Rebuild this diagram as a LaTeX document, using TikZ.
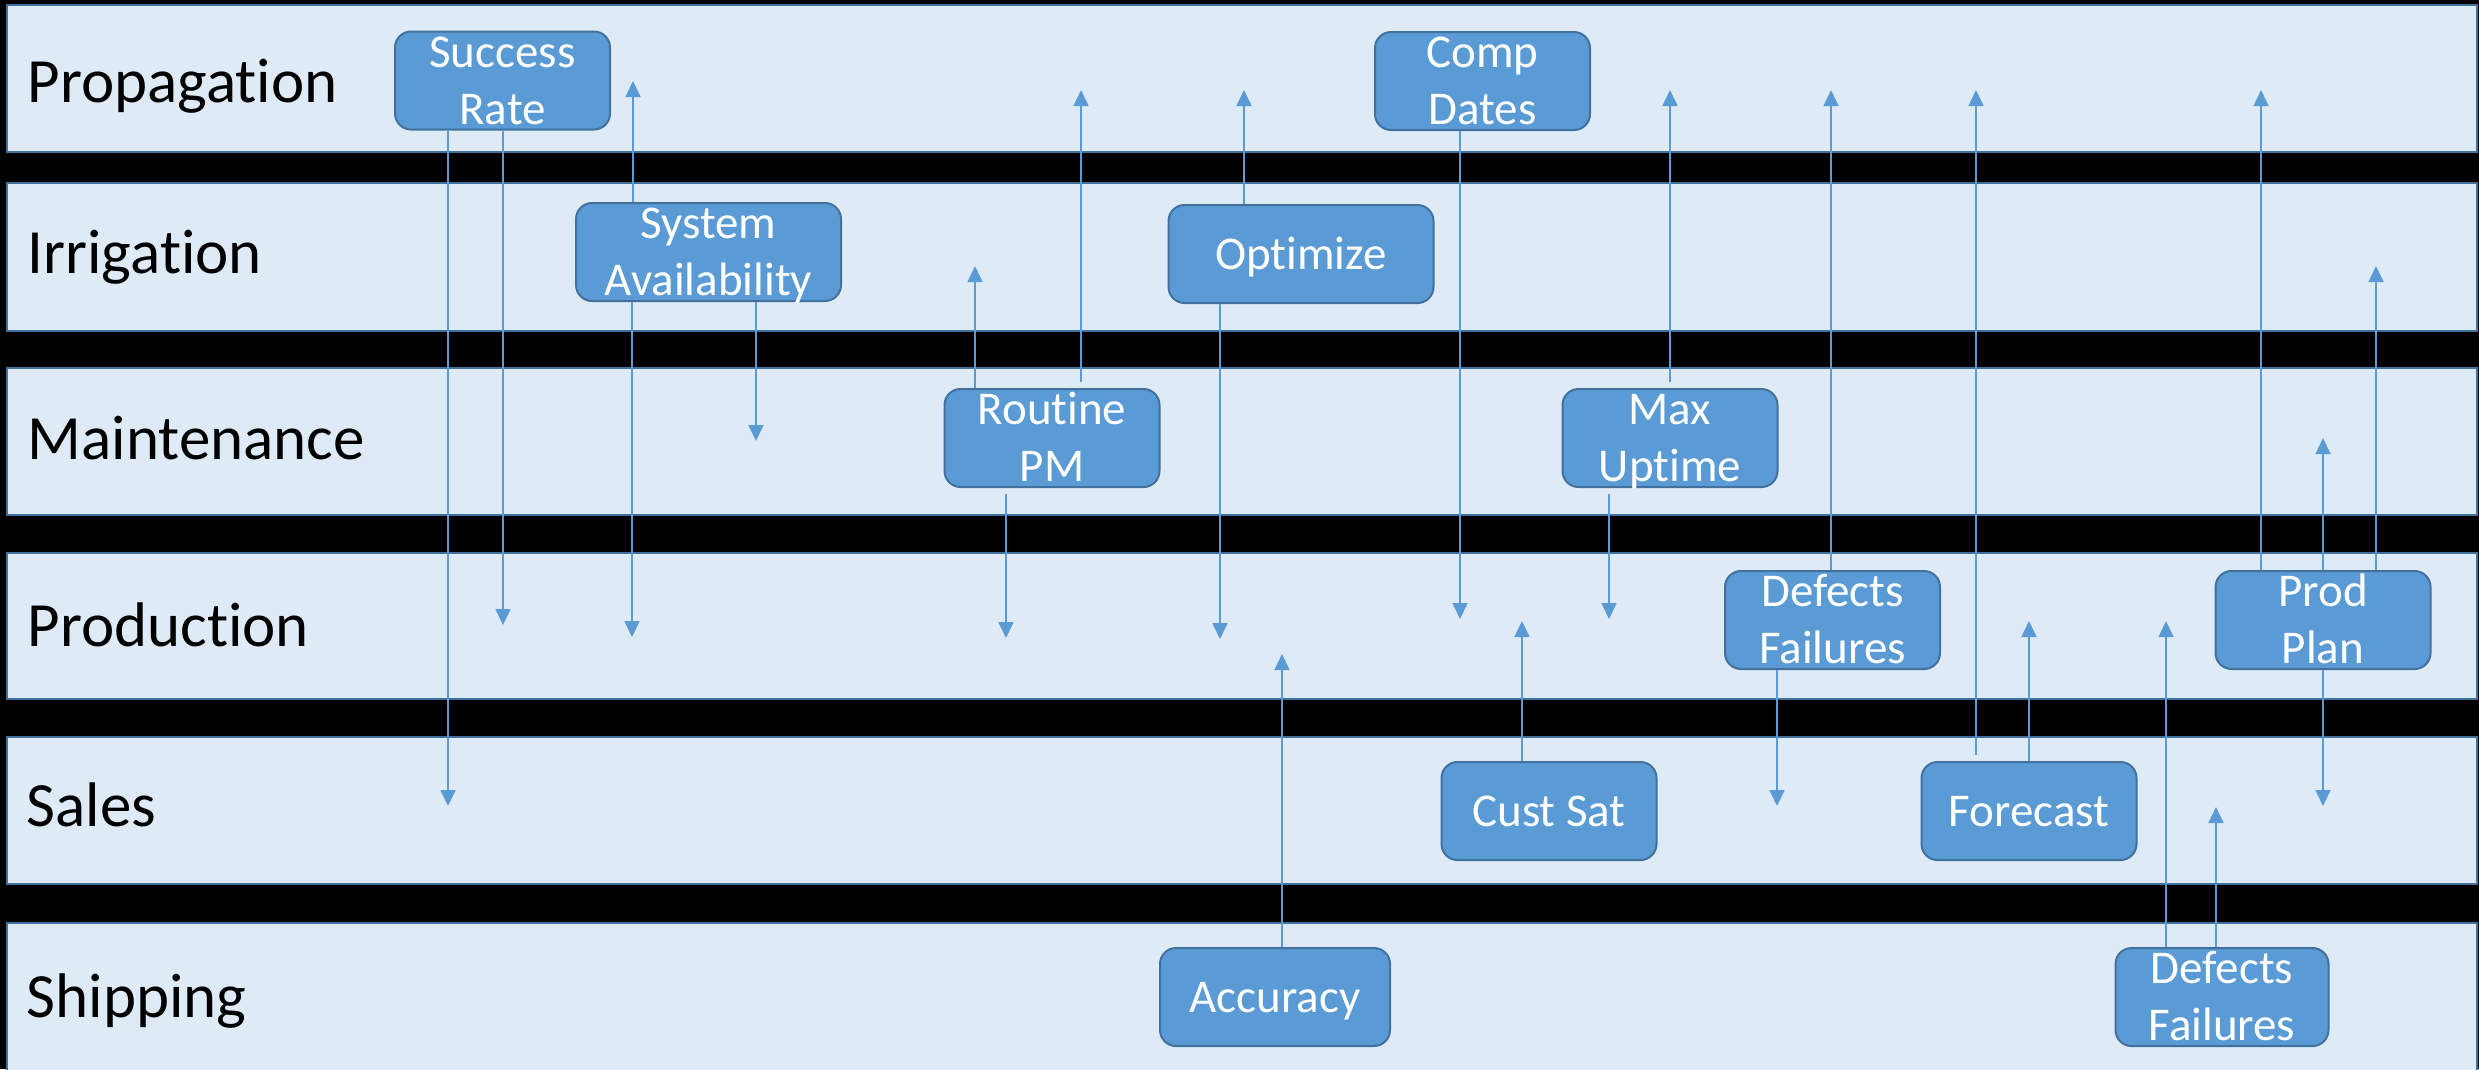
\documentclass[tikz,border=0pt]{standalone}
\usepackage{fontspec}
\setmainfont{Carlito}[Ligatures=NoCommon]
\usetikzlibrary{arrows.meta}

\definecolor{lanefill}{HTML}{DEEBF7}
\definecolor{edgeblue}{HTML}{41719C}
\definecolor{kpiblue}{HTML}{5B9BD5}

% two centred lines, first baseline a little above the box centre
\newcommand\twoln[2]{\raisebox{4.05pt}[0pt][0pt]{\vtop{\halign{\hfil##\hfil\cr#1\cr#2\cr}}}}
% one line, baseline a little below the box centre
\newcommand\oneln[1]{\raisebox{-4.5pt}[0pt][0pt]{#1}}

\begin{document}
\begin{tikzpicture}[x=0.3pt,y=-0.3pt,
  lane/.style={fill=lanefill,draw=edgeblue,line width=0.7pt},
  lanelabel/.style={anchor=base west,inner sep=0pt,text=black,
    font=\fontsize{18.9pt}{22.7pt}\selectfont},
  kpi/.style={rectangle,rounded corners=4.8pt,fill=kpiblue,draw=edgeblue,
    line width=0.6pt,text=white,inner sep=0pt,
    minimum width=64.5pt,minimum height=29.4pt,
    font=\fontsize{14.1pt}{17.1pt}\selectfont},
  wide/.style={minimum width=79.5pt},
  link/.style={draw=kpiblue,line width=0.5pt,
    -{Triangle[length=4.8pt,width=4.5pt]}},
  gap/.style={shorten <=1.8pt}]

\fill[black] (0,0) rectangle (2479,1069);
\useasboundingbox (0,0) rectangle (2479,1069);

% swim lanes
\foreach \t/\b in {5/152,183/331,368/515,553/699,737/884,923/1075}
  \draw[lane] (7,\t) rectangle (2477,\b);

\node[lanelabel] (lprop) at (27,102)  {Propagation};
\node[lanelabel] (lirr)  at (27,273)  {Irrigation};
\node[lanelabel] (lmnt)  at (27,459)  {Maintenance};
\node[lanelabel] (lprod) at (27,646)  {Production};
\node[lanelabel] (lsal)  at (26,826)  {Sales};
\node[lanelabel] (lship) at (26,1017) {Shipping};

% measures
\node[kpi] (sr)  at (502.5,80.5) {\twoln{Success}{Rate}};
\node[kpi,wide] (sa) at (708.5,252) {\twoln{System}{Availability}};
\node[kpi] (cd)  at (1482.5,81) {\twoln{Comp}{Dates}};
\node[kpi,wide] (op) at (1301,254) {\oneln{Optimize}};
\node[kpi] (rpm) at (1052,438) {\twoln{Routine}{PM}};
\node[kpi] (mu)  at (1670,438) {\twoln{Max}{Uptime}};
\node[kpi] (dfp) at (1832.5,620) {\twoln{Defects}{Failures}};
\node[kpi] (pp)  at (2323,620) {\twoln{Prod}{Plan}};
\node[kpi] (cs)  at (1549,811) {\oneln{Cust Sat}};
\node[kpi] (fc)  at (2029,811) {\oneln{Forecast}};
\node[kpi,minimum width=69pt] (acc) at (1275,997) {\oneln{Accuracy}};
\node[kpi,minimum width=63.9pt] (dfs) at (2222,997) {\twoln{Defects}{Failures}};

% arrow tips
\coordinate (a1) at (448,806);
\coordinate (a2) at (503,625);
\coordinate (a3) at (633,81);
\coordinate (a4) at (632,637);
\coordinate (a5) at (756,441);
\coordinate (a6) at (975,266);
\coordinate (a7) at (1081,90);
\coordinate (a8) at (1244,90);
\coordinate (a9) at (1220,639);
\coordinate (a10) at (1460,619);
\coordinate (a11) at (1670,90);
\coordinate (a12) at (1006,638);
\coordinate (a13) at (1282,654);
\coordinate (a14) at (1522,621);
\coordinate (a15) at (1609,619);
\coordinate (a16) at (1777,806);
\coordinate (a17) at (1831,90);
\coordinate (a18) at (1976,90);
\coordinate (a19) at (2261,90);
\coordinate (a20) at (2376,266);
\coordinate (a21) at (2323,438);
\coordinate (a22) at (2323,806);
\coordinate (a23) at (2029,621);
\coordinate (a24) at (2166,621);
\coordinate (a25) at (2216,807);

% links between lanes
\draw[link] (sr.south -| a1) -- (a1);
\draw[link] (sr.south -| a2) -- (a2);
\draw[link] (sa.north -| a3) -- (a3);
\draw[link] (sa.south -| a4) -- (a4);
\draw[link] (sa.south -| a5) -- (a5);
\draw[link] (rpm.north -| a6) -- (a6);
\draw[link,gap] (rpm.north -| a7) -- (a7);
\draw[link] (op.north -| a8) -- (a8);
\draw[link] (op.south -| a9) -- (a9);
\draw[link] (cd.south -| a10) -- (a10);
\draw[link,gap] (mu.north -| a11) -- (a11);
\draw[link,gap] (rpm.south -| a12) -- (a12);
\draw[link] (acc.north -| a13) -- (a13);
\draw[link] (cs.north -| a14) -- (a14);
\draw[link,gap] (mu.south -| a15) -- (a15);
\draw[link] (dfp.south -| a16) -- (a16);
\draw[link] (dfp.north -| a17) -- (a17);
\draw[link,gap] (fc.north -| a18) -- (a18);
\draw[link] (pp.north -| a19) -- (a19);
\draw[link] (pp.north -| a20) -- (a20);
\draw[link] (pp.north -| a21) -- (a21);
\draw[link] (pp.south -| a22) -- (a22);
\draw[link] (fc.north -| a23) -- (a23);
\draw[link] (dfs.north -| a24) -- (a24);
\draw[link] (dfs.north -| a25) -- (a25);

\end{tikzpicture}
\end{document}
